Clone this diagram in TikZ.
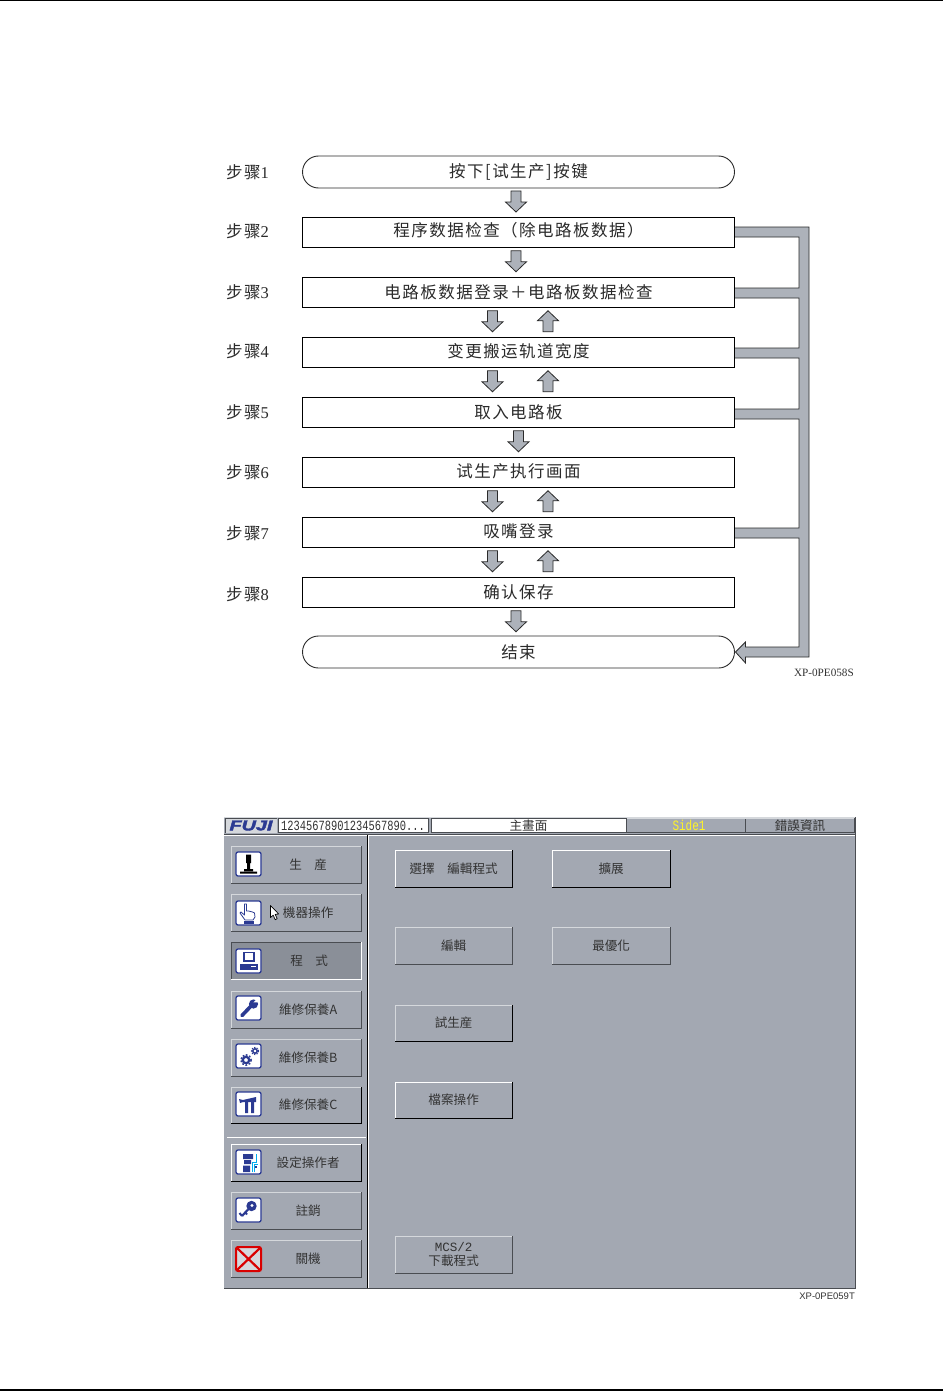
\documentclass[tikz,border=0pt]{standalone}
\usepackage{fontspec}
\setmainfont{Liberation Serif}
\newfontfamily\cjk[LetterSpace=9]{Noto Sans CJK SC}
\newfontfamily\tcjk{Noto Sans CJK TC}
\newfontfamily\monof{Liberation Mono}
\newfontfamily\sansf{Liberation Sans}
\newfontfamily\logof[FakeBold=2.5]{Liberation Sans}
\usetikzlibrary{calc}
\definecolor{ink}{HTML}{2A2A2A}
\definecolor{arrowgrey}{HTML}{ADB2BA}
\definecolor{panel}{HTML}{A3A8B2}
\definecolor{pressed}{HTML}{8A8F98}
\definecolor{softhi}{HTML}{D5D8DC}
\definecolor{softlo}{HTML}{4A4D52}
\definecolor{iconblue}{HTML}{2B3A92}
\definecolor{uitext}{HTML}{333333}
\newcommand{\fs}[1]{\fontsize{#1}{#1}\selectfont}
\newcommand{\lift}[2]{\raisebox{#1}[\height][\depth]{#2}}
\tikzset{
  flowbox/.style={draw=black,line width=0.9pt,outer sep=0pt,fill=white,minimum width=432pt,minimum height=30.5pt,inner sep=0pt,text=ink,font=\fs{16.5}\cjk},
  flowpill/.style={flowbox,draw=ink,rounded corners=16pt,minimum height=32pt},
  steplabel/.style={anchor=west,inner sep=0pt,text=ink,font=\fs{16.5}\cjk},
  blockarrow/.style={draw=ink,line width=0.8pt,fill=arrowgrey,line join=miter},
  downarr/.pic={\path[blockarrow] (-5,0)--(5,0)--(5,11)--(10.5,11)--(0,21)--(-10.5,11)--(-5,11)--cycle;},
  uparr/.pic={\path[blockarrow] (-5,21)--(5,21)--(5,10)--(10.5,10)--(0,0)--(-10.5,10)--(-5,10)--cycle;},
  uibtn/.style={fill=#1,inner sep=0pt,outer sep=0pt,align=center,text=uitext,font=\fs{12.6}\tcjk},
  tagtext/.style={inner sep=0pt,text=uitext,font=\fs{10}},
  iconbox/.style={draw=iconblue,line width=1.3pt,fill=white,rounded corners=2pt},
}
% name, x1,y1,x2,y2, fill, high colour, low colour, text
\newcommand{\uibutton}[9]{%
  \pgfmathsetmacro{\bcx}{(#2+#4-0.7)/2}\pgfmathsetmacro{\bcy}{(#3+#5-0.7)/2}%
  \pgfmathsetmacro{\bw}{#4-#2-0.7}\pgfmathsetmacro{\bh}{#5-#3-0.7}%
  \node[uibtn=#6,minimum width=\bw pt,minimum height=\bh pt] (#1) at (\bcx,\bcy) {#9};
  \draw[#7,line width=1pt] (#1.south west)--(#1.north west)--(#1.north east);
  \draw[#8,line width=1pt] (#1.north east)--(#1.south east)--(#1.south west);
}
\newcommand{\iconframe}[2]{\draw[iconbox] (0,0) rectangle (25,24);}
\begin{document}
\begin{tikzpicture}[x=1pt,y=-1pt]
\useasboundingbox (0,0) rectangle (943,1391);
\fill[white] (0,0) rectangle (943,1391);
% page rules
\fill[black] (0,0) rectangle (943,1.5);
\fill[black] (0,1389) rectangle (943,1391);

% ---------- flow chart ----------
\coordinate (busR) at (809,0);
\coordinate (busL) at (799,0);
\node[flowpill] (b1) at (518.5,172) {按下[试生产]按键};
\node[flowbox] (b2) at (518.5,232.5) {\lift{2.5pt}{程序数据检查（除电路板数据）}};
\node[flowbox] (b3) at (518.5,292.5) {电路板数据登录＋电路板数据检查};
\node[flowbox] (b4) at (518.5,352.5) {\lift{1.5pt}{变更搬运轨道宽度}};
\node[flowbox] (b5) at (518.5,412.5) {取入电路板};
\node[flowbox] (b6) at (518.5,472.5) {\lift{1.5pt}{试生产执行画面}};
\node[flowbox] (b7) at (518.5,532.5) {\lift{1.5pt}{吸嘴登录}};
\node[flowbox] (b8) at (518.5,592.5) {确认保存};
\node[flowpill] (b9) at (518.5,652) {结束};

\coordinate (t2) at ($(b2.east)+(0,-5.5)$);
\coordinate (u2) at ($(b2.east)+(0,4.5)$);
\coordinate (t3) at ($(b3.east)+(0,-4.5)$);
\coordinate (u3) at ($(b3.east)+(0,5.5)$);
\coordinate (t4) at ($(b4.east)+(0,-4.5)$);
\coordinate (u4) at ($(b4.east)+(0,5.5)$);
\coordinate (t5) at ($(b5.east)+(0,-3.5)$);
\coordinate (u5) at ($(b5.east)+(0,6.5)$);
\coordinate (t7) at ($(b7.east)+(0,-4.5)$);
\coordinate (u7) at ($(b7.east)+(0,5.5)$);
\coordinate (h1) at ($(b9.east)+(11,-5)$);
\coordinate (h2) at ($(b9.east)+(11,5)$);
\path[blockarrow,line join=miter]
  (t2) -- (busR |- t2) -- (busR |- h2) -- (h2) -- ($(h2)+(0,6)$) -- ($(b9.east)+(1,0)$) -- ($(h1)+(0,-5)$) -- (h1)
  -- (busL |- h1) -- (busL |- u7) -- (u7) -- (t7) -- (busL |- t7) -- (busL |- u5) -- (u5) -- (t5) -- (busL |- t5)
  -- (busL |- u4) -- (u4) -- (t4) -- (busL |- t4) -- (busL |- u3) -- (u3) -- (t3) -- (busL |- t3) -- (busL |- u2) -- (u2) -- cycle;
\foreach \bx in {b2,b3,b4,b5,b7} \draw[black,line width=0.9pt] (\bx.north east)--(\bx.south east);

\pic at ($(b1.south)+(-2.5,3)$) {downarr};
\pic at ($(b2.south)+(-2.5,3)$) {downarr};
\pic at ($(b3.south)+(-26,3)$) {downarr};
\pic at ($(b3.south)+(29.5,3)$) {uparr};
\pic at ($(b4.south)+(-26,3)$) {downarr};
\pic at ($(b4.south)+(29.5,3)$) {uparr};
\pic at ($(b5.south)+(0,3)$) {downarr};
\pic at ($(b6.south)+(-26,3)$) {downarr};
\pic at ($(b6.south)+(29.5,3)$) {uparr};
\pic at ($(b7.south)+(-26,3)$) {downarr};
\pic at ($(b7.south)+(29.5,3)$) {uparr};
\pic at ($(b8.south)+(-2.5,3)$) {downarr};

\node[steplabel] (s1) at (226,172) {步骤{\rmfamily 1}};
\node[steplabel] (s2) at (226,231) {步骤{\rmfamily 2}};
\node[steplabel] (s3) at (226,292) {步骤{\rmfamily 3}};
\node[steplabel] (s4) at (226,351) {步骤{\rmfamily 4}};
\node[steplabel] (s5) at (226,412) {步骤{\rmfamily 5}};
\node[steplabel] (s6) at (226,472) {步骤{\rmfamily 6}};
\node[steplabel] (s7) at (226,533) {步骤{\rmfamily 7}};
\node[steplabel] (s8) at (226,594) {步骤{\rmfamily 8}};
\node[tagtext,anchor=east,font=\fs{11.2}] (tag1) at (854,673) {XP-0PE058S};

% ---------- screen ----------
\fill[panel] (224,817) rectangle (855,1288);
\draw[softlo,line width=1pt] (855,817)--(855,1288)--(224,1288);
\draw[softhi,line width=0.8pt] (224,817)--(855,817);
% title bar
\draw[softlo,line width=1pt] (224,834)--(855,834);
\draw[white,line width=1pt] (224,835.3)--(855,835.3);
\node[fill=softhi,outer sep=0pt,minimum width=51pt,minimum height=15pt,inner sep=0pt,text=iconblue,font=\fs{15}\logof\bfseries\itshape] (logo) at (251,825.5) {\scalebox{1.32}[0.95]{FUJI}};
\draw[softlo,line width=1pt] (logo.south west)--(logo.north west)--(logo.north east);
\node[fill=white,draw=softlo,line width=0.8pt,outer sep=0pt,minimum width=150pt,minimum height=14.5pt,inner sep=0pt,text=uitext,font=\fs{10.4}\monof,anchor=west] (prog) at (278,825.5) {\scalebox{1}[1.35]{12345678901234567890...}};
\node[fill=white,draw=softlo,line width=0.8pt,outer sep=0pt,minimum width=195pt,minimum height=14.5pt,inner sep=0pt,text=uitext,font=\fs{12.6}\tcjk] (title) at (528.5,825.5) {主畫面};
\node[outer sep=0pt,minimum width=118pt,minimum height=14.5pt,inner sep=0pt,text=yellow!85!white,font=\fs{11}\monof] (side) at (686,825.5) {\hspace*{6pt}\scalebox{1}[1.3]{Side1}};
\node[outer sep=0pt,minimum width=108pt,minimum height=14.5pt,inner sep=0pt,text=uitext,font=\fs{12.6}\tcjk] (err) at (800,825.5) {錯誤資訊};
\draw[softlo,line width=1pt] (side.north east)--(side.south east) (side.south west)--(err.south east)--(err.north east);
\draw[softhi,line width=0.8pt] (side.north west)--(err.north east);
% dividers
\draw[black,line width=1pt] (367.3,835)--(367.3,1288);
\draw[white,line width=0.8pt] (368.6,835)--(368.6,1288);
\draw[white,line width=0.8pt] (227,1137.2)--(366,1137.2);

% left buttons
\uibutton{m1}{231}{846}{362}{884}{panel}{softhi}{softlo}{\hspace*{24pt}生\hspace{1em}産}
\uibutton{m2}{231}{894}{362}{932}{panel}{softhi}{softlo}{\hspace*{24pt}機器操作}
\uibutton{m3}{231}{942}{362}{980}{pressed}{softlo}{white}{\hspace*{26pt}程\hspace{1em}式}
\uibutton{m4}{231}{991}{362}{1029}{panel}{softhi}{softlo}{\hspace*{24pt}維修保養A}
\uibutton{m5}{231}{1039}{362}{1077}{panel}{softhi}{softlo}{\hspace*{24pt}維修保養B}
\uibutton{m6}{231}{1087}{362}{1124}{panel}{softhi}{black}{\hspace*{24pt}維修保養C}
\uibutton{m7}{231}{1144}{362}{1182}{panel}{white}{black}{\hspace*{24pt}設定操作者}
\uibutton{m8}{231}{1192}{362}{1230}{panel}{softhi}{softlo}{\hspace*{24pt}註銷}
\uibutton{m9}{231}{1240}{362}{1278}{panel}{softhi}{softlo}{\hspace*{24pt}關機}
% right buttons
\uibutton{r1}{395}{850}{513}{888}{panel}{white}{black}{選擇\hspace{1em}編輯程式}
\uibutton{r2}{395}{927}{513}{965}{panel}{softhi}{softlo}{編輯}
\uibutton{r3}{395}{1005}{513}{1042}{panel}{softhi}{black}{試生産}
\uibutton{r4}{395}{1082}{513}{1119}{panel}{white}{black}{檔案操作}
\uibutton{r5}{395}{1236}{513}{1274}{panel}{softhi}{softlo}{{\monof MCS/2}\\[1pt]下載程式}
\uibutton{r6}{552}{850}{671}{888}{panel}{white}{black}{擴展}
\uibutton{r7}{552}{927}{671}{965}{panel}{softhi}{softlo}{最優化}

% icon 1: joystick
\begin{scope}[shift={(236,852)}]
\iconframe{}{}
\fill[black] (10,2.5) rectangle (15,11) (11,11) rectangle (14,17);
\fill[black] (8,17) rectangle (17,19) (4,19.5) rectangle (21,21.5);
\end{scope}
% icon 2: hand
\begin{scope}[shift={(236,901)}]
\iconframe{}{}
\draw[iconblue,line width=0.8pt,fill=white,line join=round] (9,19)--(4,12)--(5,11)--(8.5,14)--(8.5,3)--(10.5,3)--(10.5,10)--(12.5,10)--(14.5,10.5)--(16.5,11)--(18.5,12)--(19,16)--(17,19)--cycle;
\fill[iconblue] (8,19.5) rectangle (18,23);
\end{scope}
% icon 3: computer
\begin{scope}[shift={(236,949)}]
\iconframe{}{}
\draw[iconblue,line width=1.6pt] (8,3.5) rectangle (18,12);
\fill[iconblue] (4,15) rectangle (21.5,21);
\fill[white] (15,17) rectangle (20,18.2);
\end{scope}
% icon 4: wrench
\begin{scope}[shift={(236,996)}]
\iconframe{}{}
\draw[iconblue,line width=3.6pt,line cap=round] (6,19.5)--(16,9);
\fill[iconblue] (17.5,8) circle (4.6);
\fill[white] (17.5,6.5)--(22,1.5)--(24,6)--cycle;
\end{scope}
% icon 5: gears
\begin{scope}[shift={(236,1044)}]
\iconframe{}{}
\draw[iconblue,line width=2.2pt] (10,16) circle (3.2);
\draw[iconblue,line width=1.5pt,dash pattern=on 1.7pt off 1.7pt] (10,16) circle (5.2);
\draw[iconblue,line width=1.5pt] (19,7) circle (2.2);
\draw[iconblue,line width=1pt,dash pattern=on 1.3pt off 1.3pt] (19,7) circle (3.6);
\end{scope}
% icon 6: tools
\begin{scope}[shift={(236,1092)}]
\iconframe{}{}
\fill[iconblue] (3,7)--(7,8)--(20,5)--(20,10)--(7,10)--(4,11)--cycle;
\fill[iconblue] (9,10) rectangle (12,21) (15,10) rectangle (18,21);
\end{scope}
% icon 7: operator
\begin{scope}[shift={(236,1150)}]
\iconframe{}{}
\fill[iconblue] (7,4) rectangle (17,9) (8,10) rectangle (15,14) (7,15.5) rectangle (14,22);
\draw[cyan,line width=0.8pt] (16,22)--(16,12)--(20,12)--(20,4) (18.5,22)--(18.5,14)--(21.5,14);
\fill[iconblue] (19,16) rectangle (21,18);
\end{scope}
% icon 8: key
\begin{scope}[shift={(236,1198)}]
\iconframe{}{}
\fill[iconblue] (15.5,8) circle (5.2);
\fill[white] (16,7.5) circle (1.6);
\draw[iconblue,line width=2.2pt] (12,11.5)--(6,18);
\draw[iconblue,line width=2pt] (6,18)--(3.5,15);
\draw[iconblue,line width=2pt] (9.5,14.5)--(11,16.5);
\end{scope}
% icon 9: close
\begin{scope}[shift={(236,1247)}]
\draw[red!85!black,line width=2pt,fill=softhi,rounded corners=2pt] (0,0) rectangle (25,24);
\draw[red!85!black,line width=2.2pt] (1,1)--(24,23) (24,1)--(1,23);
\end{scope}
% pointer
\coordinate (ptr) at (270.5,905.5);
\draw[black,fill=white,line width=0.7pt,line join=round] (ptr)--++(0,12)--++(2.7,-2.3)--++(2,4.5)--++(2,-1)--++(-2,-4.3)--++(3.5,-0.4)--cycle;

\node[tagtext,anchor=east,font=\fs{9.5}\sansf] (tag2) at (855,1296) {XP-0PE059T};
\end{tikzpicture}
\end{document}
